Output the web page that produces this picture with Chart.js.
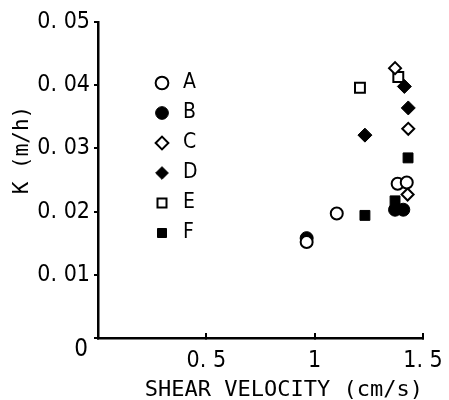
<!DOCTYPE html>
<html>
<head>
<meta charset="utf-8">
<script src="https://cdn.jsdelivr.net/npm/chart.js@4"></script>
<style>
    html, body { margin: 0; padding: 0; background: #fff; }
    #wrap { width: 449px; height: 400px; }
</style>
</head>
<body>
<div id="wrap"><canvas id="chart"></canvas></div>
<script>
// Dữ liệu: vận tốc cắt (cm/s) và hệ số K (m/h)
const seriesNames = ['A', 'B', 'C', 'D', 'E', 'F'];

const shearA = [0.963, 1.102, 1.383, 1.425];
const kA = [0.0152, 0.0197, 0.0244, 0.0246];

const shearB = [0.963, 1.371, 1.409];
const kB = [0.0158, 0.0203, 0.0203];

const shearC = [1.371, 1.432, 1.429];
const kC = [0.0427, 0.0331, 0.0227];

const shearD = [1.414, 1.432, 1.232];
const kD = [0.0398, 0.0364, 0.0321];

const shearE = [1.386, 1.209];
const kE = [0.0413, 0.0396];

const shearF = [1.431, 1.371, 1.232];
const kF = [0.0285, 0.0217, 0.0194];

const xTicks = [0, 0.5, 1, 1.5];
const yTicks = [0, 0.01, 0.02, 0.03, 0.04, 0.05];

const tickFont = '"DejaVu Sans Condensed", "DejaVu Sans", sans-serif';
const titleFont = '"DejaVu Sans Mono", "Liberation Mono", monospace';

// Ghép x, y thành điểm
function toPoints(xs, ys) {
    let pts = [];
    for (let i = 0; i < xs.length; i++)
        pts.push({x: xs[i], y: ys[i]});
    return pts;
}

// Tạo một dataset với kiểu điểm (rỗng / đặc)
function makeSet(label, xs, ys, style, filled, radius) {
    let fill = filled ? '#000' : '#fff';
    let bw = filled ? 1 : 2;
    return {
        label: label,
        data: toPoints(xs, ys),
        pointStyle: style,
        pointRadius: radius,
        backgroundColor: fill,
        borderColor: '#000',
        borderWidth: bw,
        pointBackgroundColor: fill,
        pointBorderColor: '#000',
        pointBorderWidth: bw
    };
}

const datasets = [
    makeSet(seriesNames[0], shearA, kA, 'circle', false, 6),
    makeSet(seriesNames[1], shearB, kB, 'circle', true, 6.5),
    makeSet(seriesNames[2], shearC, kC, 'rectRot', false, 6),
    makeSet(seriesNames[3], shearD, kD, 'rectRot', true, 7),
    makeSet(seriesNames[4], shearE, kE, 'rect', false, 7),
    makeSet(seriesNames[5], shearF, kF, 'rect', true, 7)
];

function fmtTick(v) {
    if (v === 0) return '';
    return String(+v.toFixed(2)).replace('.', '. ');
}

// Dời chú thích vào trong vùng vẽ, vẽ nhãn "0" và tiêu đề trục tung
const extras = {
    id: 'extras',
    afterLayout(chart) {
        const lg = chart.legend;
        if (!lg) return;
        const dx = 44.5, dy = 63.5;
        lg.left += dx; lg.right += dx;
        lg.top += dy; lg.bottom += dy;
    },
    afterDraw(chart) {
        const ctx = chart.ctx;
        ctx.save();
        ctx.fillStyle = '#000';
        ctx.font = '24px ' + tickFont;
        ctx.textAlign = 'center';
        ctx.textBaseline = 'middle';
        ctx.fillText('0', 81, 350);

        ctx.font = '21px ' + titleFont;
        ctx.translate(23, 150);
        ctx.rotate(-Math.PI / 2);
        ctx.fillText('K (m/h)', 0, 0);
        ctx.restore();
    }
};

let context = document.getElementById('chart').getContext('2d');
new Chart(context, {
    type: 'scatter',
    data: { datasets: datasets },
    options: {
        responsive: true,
        maintainAspectRatio: false,
        animation: false,
        events: [],
        layout: { padding: { top: 22, right: 26, left: 0, bottom: 0 } },
        plugins: {
            tooltip: { enabled: false },
            legend: {
                position: 'chartArea',
                align: 'start',
                labels: {
                    usePointStyle: true,
                    boxHeight: 9,
                    padding: 9,
                    color: '#000',
                    font: { family: tickFont, size: 21 }
                }
            }
        },
        scales: {
            x: {
                type: 'linear',
                min: xTicks[0],
                max: xTicks[xTicks.length - 1],
                afterFit: function(scale) {
                    scale.height = 62;
                    scale.paddingLeft = 0;
                    scale.paddingRight = 0;
                },
                afterBuildTicks: function(scale) {
                    scale.ticks = xTicks.map(v => ({ value: v }));
                },
                border: { color: '#000', width: 2.5 },
                grid: {
                    drawOnChartArea: false,
                    color: '#000',
                    lineWidth: 2,
                    tickLength: -5
                },
                ticks: {
                    color: '#000',
                    padding: 14,
                    maxRotation: 0,
                    font: { family: tickFont, size: 23 },
                    callback: fmtTick
                },
                title: {
                    display: true,
                    text: 'SHEAR VELOCITY (cm/s)',
                    align: 'end',
                    color: '#000',
                    padding: { top: 0, bottom: -3 },
                    font: { family: titleFont, size: 22 }
                }
            },
            y: {
                type: 'linear',
                min: yTicks[0],
                max: yTicks[yTicks.length - 1],
                afterFit: function(scale) {
                    scale.width = 98;
                    scale.paddingTop = 0;
                    scale.paddingBottom = 0;
                },
                afterBuildTicks: function(scale) {
                    scale.ticks = yTicks.map(v => ({ value: v }));
                },
                border: { color: '#000', width: 2.5 },
                grid: {
                    drawOnChartArea: false,
                    color: '#000',
                    lineWidth: 2,
                    tickLength: 4
                },
                ticks: {
                    color: '#000',
                    padding: 4,
                    font: { family: tickFont, size: 23 },
                    callback: fmtTick
                },
                title: { display: false }
            }
        }
    },
    plugins: [extras]
});
</script>
</body>
</html>
